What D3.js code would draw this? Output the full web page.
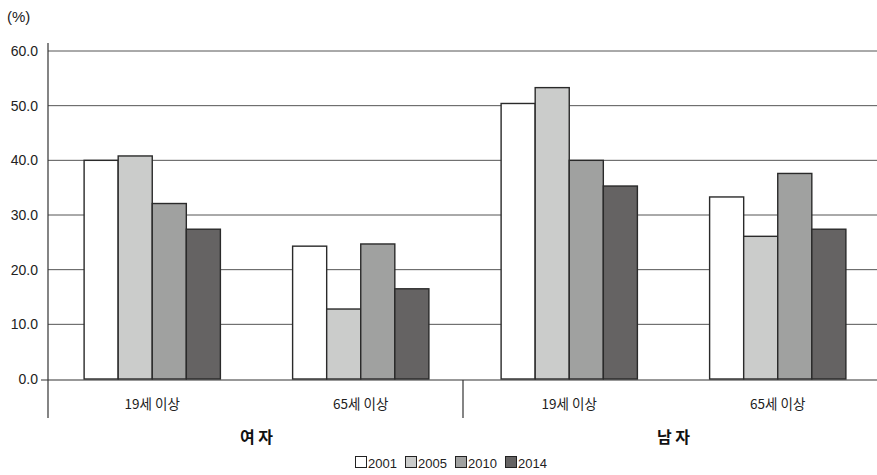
<!DOCTYPE html>
<html>
<head>
<meta charset="utf-8">
<script src="https://cdn.jsdelivr.net/npm/d3@7"></script>
<style>
  body { margin: 0; background: #fff; }
  svg { display: block; font-family: "Liberation Sans", "Noto Sans CJK KR", sans-serif; }
  .kr { font-family: "Noto Sans CJK KR", sans-serif; }
</style>
</head>
<body>
<svg id="chart" width="877" height="475"></svg>
<script>
// Age groups within each sex, sexes, survey years
const ageGroups = ["19세 이상", "65세 이상"];
const sexes = ["여 자", "남 자"];
const years = ["2001", "2005", "2010", "2014"];
const yTicks = [0, 10, 20, 30, 40, 50, 60];

// Rates (%) per year, in order: 여자 19+, 여자 65+, 남자 19+, 남자 65+
const v2001 = [40.0, 24.3, 50.4, 33.3];
const v2005 = [40.8, 12.8, 53.3, 26.1];
const v2010 = [32.1, 24.7, 40.0, 37.6];
const v2014 = [27.4, 16.5, 35.3, 27.4];
const seriesValues = [v2001, v2005, v2010, v2014];
const fills = ["#ffffff", "#cbcccb", "#a0a1a0", "#656363"];

const categories = [];
sexes.forEach(s => ageGroups.forEach(a => categories.push({ sex: s, age: a, key: s + "|" + a })));

const svg = d3.select("#chart");
const plotLeft = 48, plotRight = 882, plotTop = 51, plotBottom = 379;

const x0 = d3.scaleBand().domain(categories.map(c => c.key)).range([plotLeft, plotRight]).paddingInner(0).paddingOuter(0);
const x1 = d3.scaleBand().domain(years).range([0, x0.bandwidth()]).paddingInner(0).paddingOuter(1.06);
const y = d3.scaleLinear().domain([0, 60]).range([plotBottom, plotTop]);

// horizontal gridlines
svg.append("g").selectAll("line").data(yTicks.filter(t => t > 0)).join("line")
  .attr("x1", plotLeft).attr("x2", 877)
  .attr("y1", d => y(d)).attr("y2", d => y(d))
  .attr("stroke", "#555").attr("stroke-width", 1);

// tick labels
svg.append("g").selectAll("text").data(yTicks).join("text")
  .attr("x", 38).attr("y", d => y(d)).attr("dy", "0.35em")
  .attr("text-anchor", "end").attr("font-size", 14).attr("fill", "#222")
  .text(d => d.toFixed(1));

svg.append("text").attr("x", 7).attr("y", 22).attr("font-size", 15).attr("fill", "#222").text("(%)");

// bars
const groups = svg.append("g").selectAll("g").data(categories).join("g")
  .attr("transform", c => `translate(${x0(c.key)},0)`);
groups.selectAll("rect").data((c, i) => years.map((yr, j) => ({ yr, j, v: seriesValues[j][i] })))
  .join("rect")
  .attr("x", d => x1(d.yr)).attr("width", x1.bandwidth())
  .attr("y", d => y(d.v)).attr("height", d => y(0) - y(d.v))
  .attr("fill", d => fills[d.j]).attr("stroke", "#2a2a2a").attr("stroke-width", 1.4);

// baseline and axis
svg.append("line").attr("x1", 41).attr("x2", 877).attr("y1", y(0) + 1).attr("y2", y(0) + 1)
  .attr("stroke", "#333").attr("stroke-width", 1.2);
svg.append("line").attr("x1", plotLeft).attr("x2", plotLeft).attr("y1", 43).attr("y2", 418)
  .attr("stroke", "#333").attr("stroke-width", 1.2);
const sepX = x0(categories[2].key) - 2;
svg.append("line").attr("x1", sepX).attr("x2", sepX).attr("y1", y(0) + 1).attr("y2", 418)
  .attr("stroke", "#333").attr("stroke-width", 1.2);

// age labels
svg.append("g").selectAll("text").data(categories).join("text")
  .attr("class", "kr")
  .attr("x", c => x0(c.key) + x0.bandwidth() / 2).attr("y", 409)
  .attr("text-anchor", "middle").attr("font-size", 13.5).attr("fill", "#222")
  .text(c => c.age);

// sex labels
svg.append("g").selectAll("text").data(sexes).join("text")
  .attr("class", "kr")
  .attr("x", s => {
    const ks = categories.filter(c => c.sex === s).map(c => c.key);
    return (x0(ks[0]) + x0(ks[ks.length - 1]) + x0.bandwidth()) / 2;
  })
  .attr("y", 443).attr("text-anchor", "middle").attr("font-size", 16).attr("font-weight", "bold")
  .attr("fill", "#111").text(s => s);

// legend
const legend = svg.append("g").attr("transform", "translate(355,467)");
let lx = 0;
years.forEach((yr, j) => {
  const g = legend.append("g").attr("transform", `translate(${lx},0)`);
  g.append("rect").attr("x", 0.5).attr("y", -10.5).attr("width", 11).attr("height", 11)
    .attr("fill", fills[j]).attr("stroke", "#222").attr("stroke-width", 1);
  g.append("text").attr("x", 13).attr("y", 0.5).attr("font-size", 13).attr("fill", "#222").text(yr);
  lx += 50;
});
</script>
</body>
</html>
